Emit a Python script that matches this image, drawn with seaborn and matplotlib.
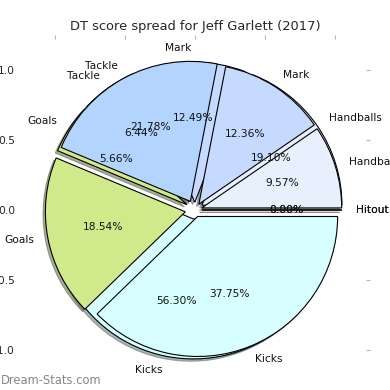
import matplotlib
matplotlib.use('Agg')
import matplotlib.pyplot as plt
import seaborn as sns

# score categories, in drawing order (counter-clockwise from 3 o'clock)
categories = ['Hitout', 'Handballs', 'Mark', 'Tackle', 'Goals', 'Kicks']
# back pie (mostly hidden) and front pie, percent of DT score
spread_back = [0.0, 19.104, 12.494, 6.444, 5.658, 56.30]
spread_front = [0.0, 9.57, 12.36, 21.78, 18.54, 37.75]
slice_colors = ['#f5d0d0', '#e9f0fd', '#c6d9ff', '#b3d4fe', '#cfe98b', '#d8ffff']
axis_ticks = [-1.0, -0.5, 0.0, 0.5, 1.0]

sns.set_style('white')
plt.rcParams['font.family'] = ['DejaVu Sans']
FONT_SIZE = 7.7

fig = plt.figure(figsize=(3.9, 3.9), dpi=100)
ax = fig.add_axes([20 / 390, 5 / 390, 350 / 390, 350 / 390])

wedge_style = {'edgecolor': 'black', 'linewidth': 0.8}
text_style = {'fontsize': FONT_SIZE, 'color': '#111111'}
shadow_style = {'ox': -0.012, 'oy': -0.012, 'shade': 0.6}

ax.pie(spread_back, labels=categories, colors=slice_colors,
       explode=[0.05, 0.06, 0.055, 0.07, 0.07, 0.065], autopct='%1.2f%%',
       shadow=shadow_style, wedgeprops=wedge_style, textprops=text_style)
ax.pie(spread_front, labels=categories, colors=slice_colors,
       explode=[0.05, 0.05, 0.05, 0.07, 0.07, 0.05], autopct='%1.2f%%',
       shadow=shadow_style, wedgeprops=wedge_style, textprops=text_style)

ax.set_xlim(-1.25, 1.25)
ax.set_ylim(-1.25, 1.25)
ax.set_xticks(axis_ticks)
ax.set_yticks(axis_ticks)
ax.tick_params(direction='in', top=True, right=True, labelsize=FONT_SIZE,
               color='#b5b5b5', length=3, width=0.8, pad=3.5)
ax.set_title('DT score spread for Jeff Garlett (2017)', fontsize=9.4, pad=3.5)

fig.text(0.002, 1 - 380 / 390, 'Dream-Stats.com', fontsize=8.3, color='#858585',
         va='center', ha='left')

fig.savefig('out.png', dpi=100)
